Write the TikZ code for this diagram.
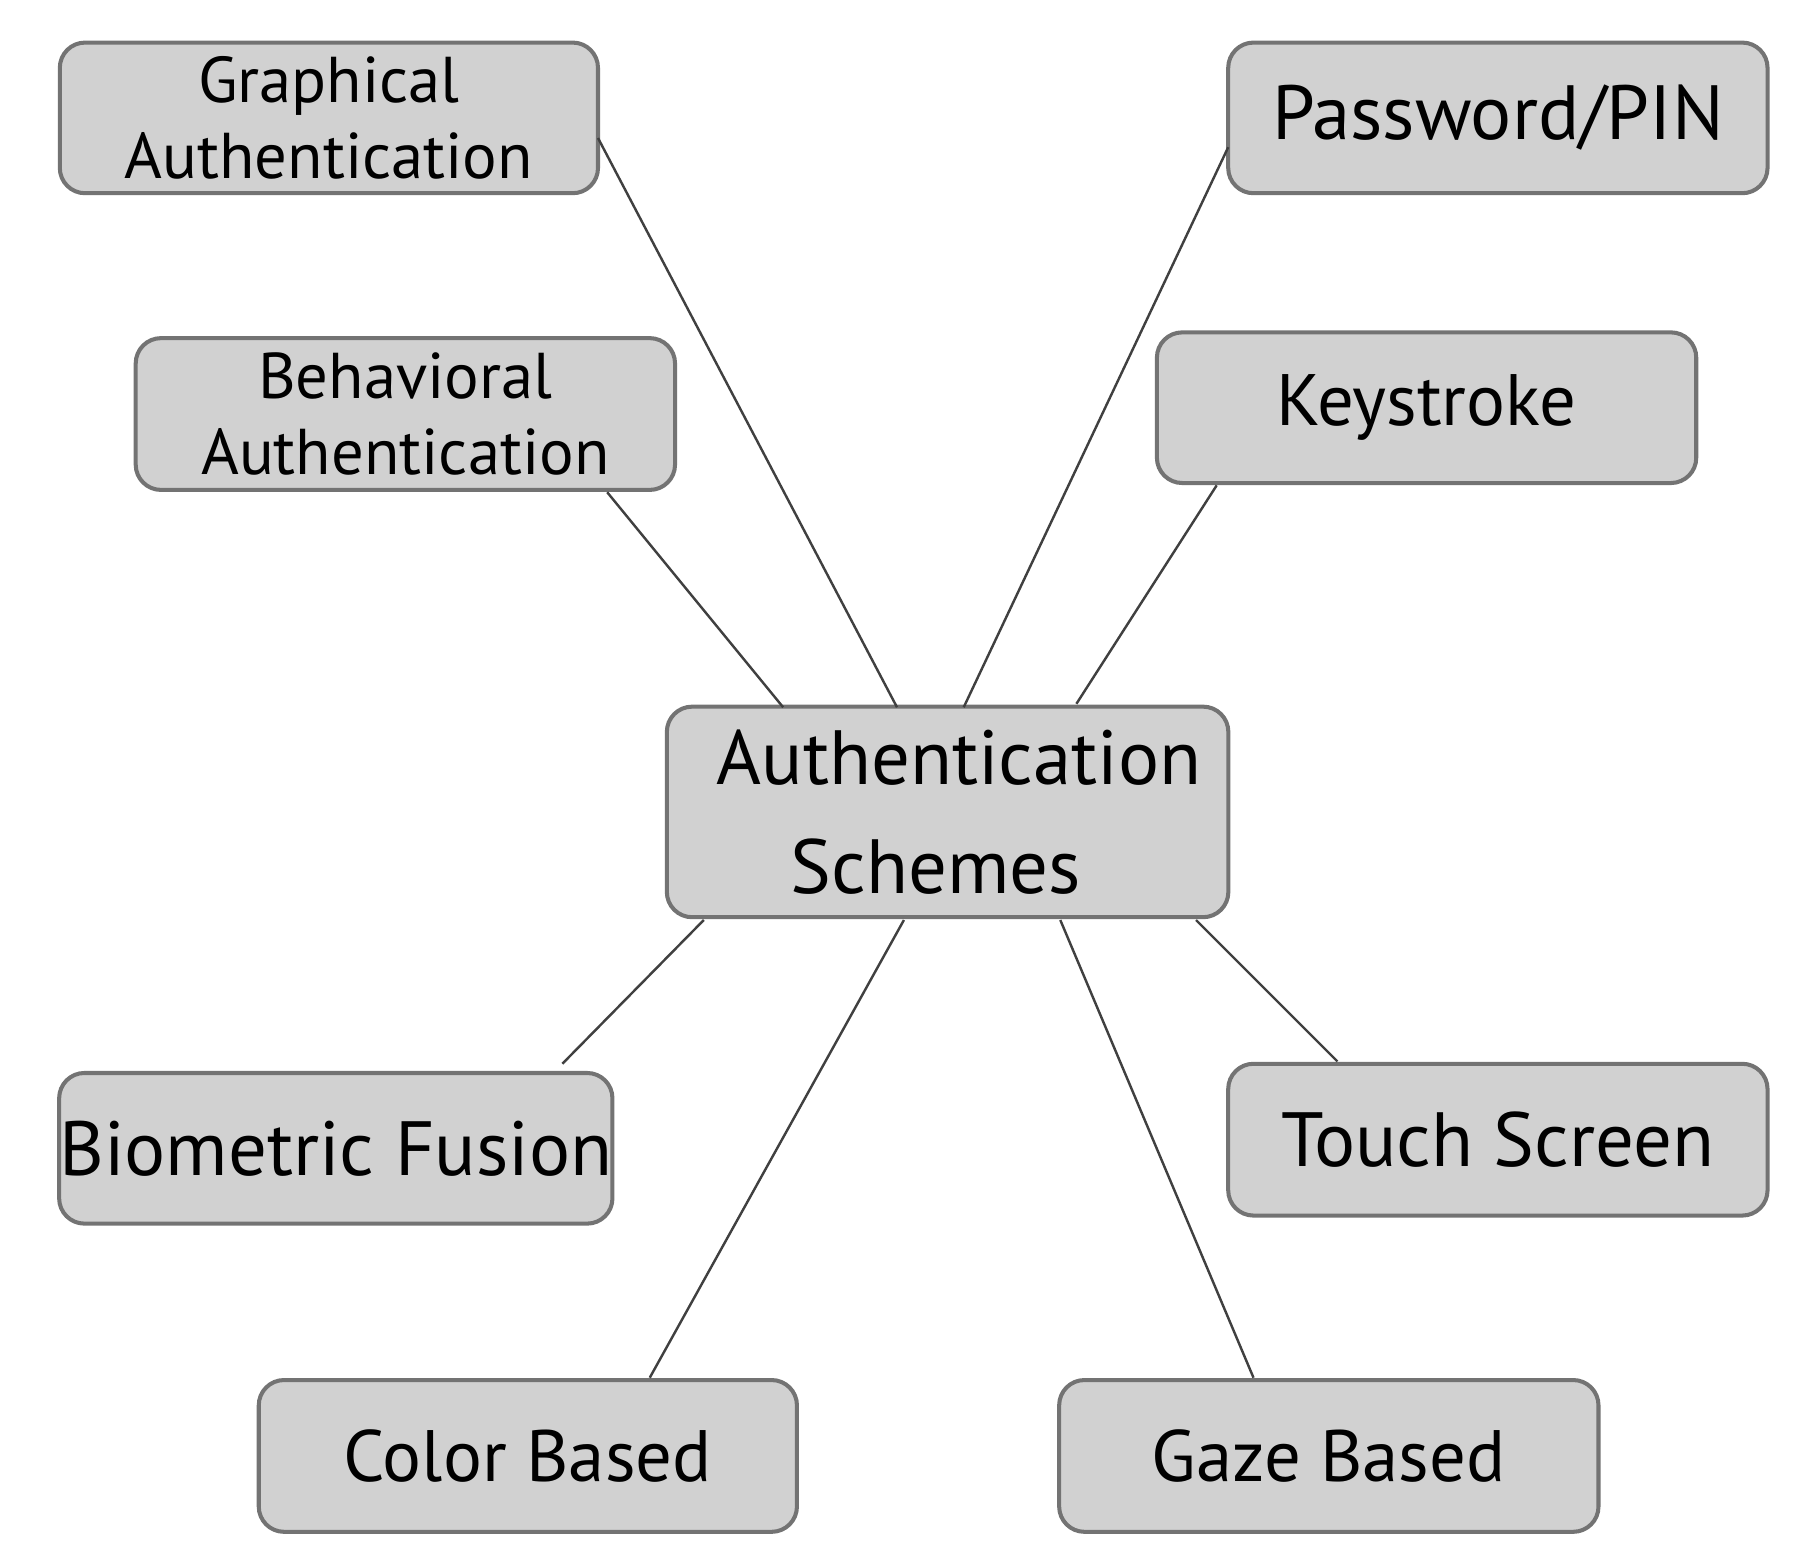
\documentclass[tikz,border=0pt]{standalone}
\usepackage{fontspec}
\setmainfont{PT Sans}
\begin{document}
\begin{tikzpicture}[x=0.01cm,y=-0.01cm,
  box/.style={draw=black!55,line width=1pt,fill=black!18,rounded corners=0.22cm,inner sep=0pt},
  ln/.style={draw=black!75,line width=0.6pt}]
\useasboundingbox (0,0) rectangle (1560,1362);
\newcommand{\bx}[6]{\node[box,minimum width=#4*0.01cm-#2*0.01cm,minimum height=#5*0.01cm-#3*0.01cm,align=center,font=\fontsize{16}{19}\selectfont] (#1) at ({(#2+#4)/2},{(#3+#5)/2}) {#6};}
\bx{g}{52}{37}{520}{168}{Graphical\\Authentication}
\bx{p}{1068}{37}{1537}{168}{\fontsize{19}{22}\selectfont Password/PIN}
\bx{b}{118}{294}{587}{426}{Behavioral\\Authentication}
\bx{k}{1006}{289}{1475}{420}{\fontsize{18}{22}\selectfont Keystroke}
\node[box,minimum width=4.88cm,minimum height=1.83cm,align=center,font=\fontsize{19}{27}\selectfont] (c) at (824,706) {\hspace*{0.2cm}Authentication\\Schemes\hspace*{0.2cm}};
\bx{f}{58}{933}{526}{1064}{\fontsize{19}{22}\selectfont Biometric Fusion}
\bx{t}{1068}{925}{1537}{1057}{\fontsize{19}{22}\selectfont Touch Screen}
\bx{cb}{225}{1200}{693}{1332}{\fontsize{18}{22}\selectfont Color Based}
\bx{gb}{921}{1200}{1390}{1332}{\fontsize{18}{22}\selectfont Gaze Based}
\coordinate (g1) at (520,120); \coordinate (c1) at (780,615);
\coordinate (p1) at (1068,128); \coordinate (c2) at (838,615);
\coordinate (b1) at (528,428); \coordinate (c3) at (681,615);
\coordinate (k1) at (1058,422); \coordinate (c4) at (936,612);
\coordinate (f1) at (489,925); \coordinate (c5) at (612,800);
\coordinate (cb1) at (565,1198); \coordinate (c6) at (786,800);
\coordinate (gb1) at (1090,1198); \coordinate (c7) at (922,800);
\coordinate (t1) at (1163,923); \coordinate (c8) at (1040,800);
\draw[ln] (g1)--(c1); \draw[ln] (p1)--(c2); \draw[ln] (b1)--(c3); \draw[ln] (k1)--(c4);
\draw[ln] (f1)--(c5); \draw[ln] (cb1)--(c6); \draw[ln] (gb1)--(c7); \draw[ln] (t1)--(c8);
\end{tikzpicture}
\end{document}
